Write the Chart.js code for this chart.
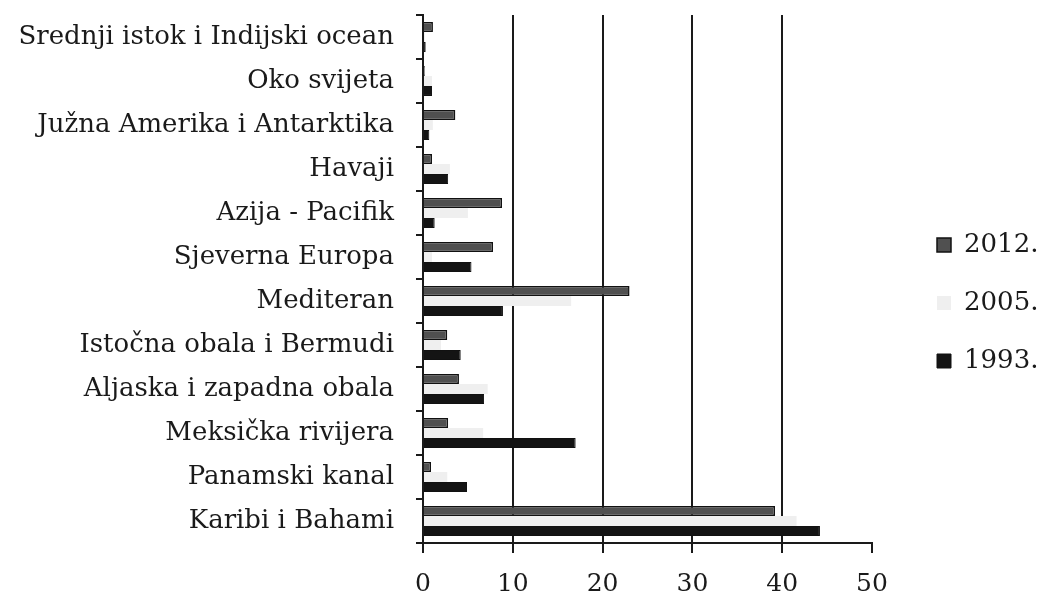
<!DOCTYPE html>
<html>
<head>
<meta charset="utf-8">
<script src="https://cdn.jsdelivr.net/npm/chart.js@4.4.1/dist/chart.umd.min.js"></script>
<style>
    html, body { margin: 0; padding: 0; background: #fff; }
    #wrap { width: 1040px; height: 597px; position: relative; }
</style>
</head>
<body>
<div id="wrap"><canvas id="cruiseChart"></canvas></div>
<script>
// kategorije (odozgo prema dolje)
const categories = [
    'Srednji istok i Indijski ocean',
    'Oko svijeta',
    'Južna Amerika i Antarktika',
    'Havaji',
    'Azija - Pacifik',
    'Sjeverna Europa',
    'Mediteran',
    'Istočna obala i Bermudi',
    'Aljaska i zapadna obala',
    'Meksička rivijera',
    'Panamski kanal',
    'Karibi i Bahami'
];

// vrijednosti po godinama
const values2012 = [1.1, 0.2, 3.6, 1.0, 8.8, 7.8, 23.0, 2.7, 4.0, 2.8, 0.9, 39.2];
const values2005 = [0.2, 1.0, 1.1, 3.0, 5.0, 1.0, 16.5, 2.0, 7.2, 6.7, 2.7, 41.6];
const values1993 = [0.3, 1.0, 0.7, 2.8, 1.3, 5.4, 8.9, 4.2, 6.8, 17.0, 4.9, 44.2];

const xTicks = [0, 10, 20, 30, 40, 50];

// legenda se pomiče udesno (kao na originalu)
const legendShift = {
    id: 'legendShift',
    afterLayout(chart) {
        const lg = chart.legend;
        if (!lg) return;
        const dx = 937 - 32 - lg.left;
        lg.left += dx; lg.right += dx;
        lg.top -= 3; lg.bottom -= 3;
    }
};

document.addEventListener('DOMContentLoaded', () => {
    const FONT = "'DejaVu Serif', 'Liberation Serif', serif";
    const INK = '#1a1a1a';
    const ctx = document.getElementById('cruiseChart').getContext('2d');

    new Chart(ctx, {
        type: 'bar',
        data: {
            labels: categories,
            datasets: [
                { label: '2012.', data: values2012, backgroundColor: '#505050', borderColor: '#111', borderWidth: 1.5 },
                { label: '2005.', data: values2005, backgroundColor: '#efefef', borderWidth: 0 },
                { label: '1993.', data: values1993, backgroundColor: '#141414', borderColor: '#111', borderWidth: 1 }
            ]
        },
        plugins: [legendShift],
        options: {
            indexAxis: 'y',
            responsive: true,
            maintainAspectRatio: false,
            animation: false,
            layout: { padding: { top: 15, right: 0, left: 0, bottom: 0 } },
            datasets: { bar: { categoryPercentage: 0.68, barPercentage: 1.0 } },
            plugins: {
                tooltip: { enabled: false },
                legend: {
                    position: 'right',
                    labels: {
                        color: INK,
                        font: { family: FONT, size: 26 },
                        boxWidth: 14,
                        boxHeight: 14,
                        padding: 32
                    }
                }
            },
            scales: {
                x: {
                    min: xTicks[0],
                    max: xTicks[xTicks.length - 1],
                    afterBuildTicks: (scale) => { scale.ticks = xTicks.map(v => ({ value: v })); },
                    afterFit: (scale) => { scale.height = 54; scale.paddingRight = 168; },
                    ticks: { color: INK, font: { family: FONT, size: 25 }, padding: 16 },
                    grid: {
                        color: (c) => (c.tick && c.tick.value > 0 && c.tick.value < 50) ? INK : 'rgba(0,0,0,0)',
                        lineWidth: 2,
                        tickColor: INK,
                        tickLength: 10
                    },
                    border: { display: true, color: INK, width: 2 }
                },
                y: {
                    afterFit: (scale) => { scale.width = 423; scale.paddingTop = 0; scale.paddingBottom = 0; },
                    ticks: { color: INK, font: { family: FONT, size: 26 }, padding: 22 },
                    grid: { offset: true, drawOnChartArea: false, color: INK, lineWidth: 2, tickLength: 7 },
                    border: { display: true, color: INK, width: 2 }
                }
            }
        }
    });
});
</script>
</body>
</html>
